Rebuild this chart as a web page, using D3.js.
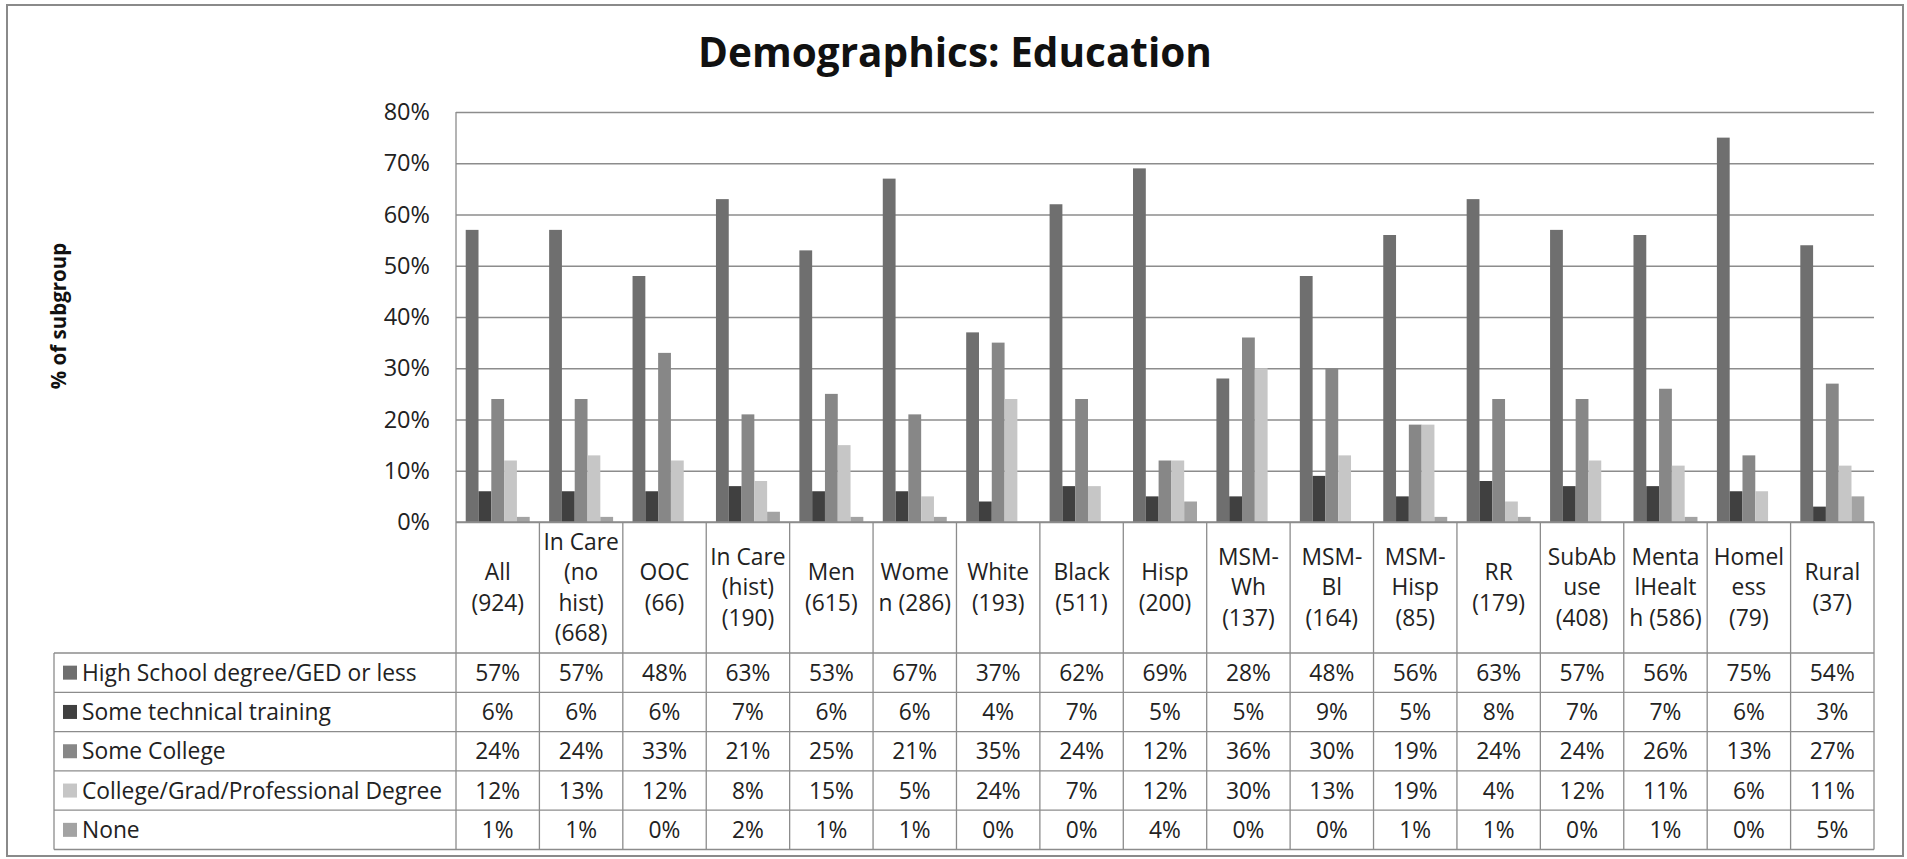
<!DOCTYPE html>
<html><head><meta charset="utf-8">
<script src="https://cdn.jsdelivr.net/npm/d3@7/dist/d3.min.js"></script>
<style>
body{margin:0;background:#fff;}
svg{display:block;}
text{font-family:"Open Sans", Lato, sans-serif;fill:#222;}
</style>
</head><body>
<svg id="chart" width="1907" height="859"></svg>
<script>
// ---------- data ----------
const categories = [
  "All\n(924)", "In Care\n(no\nhist)\n(668)", "OOC\n(66)", "In Care\n(hist)\n(190)",
  "Men\n(615)", "Wome\nn (286)", "White\n(193)", "Black\n(511)", "Hisp\n(200)",
  "MSM-\nWh\n(137)", "MSM-\nBl\n(164)", "MSM-\nHisp\n(85)", "RR\n(179)",
  "SubAb\nuse\n(408)", "Menta\nlHealt\nh (586)", "Homel\ness\n(79)", "Rural\n(37)"
];
const seriesNames = [
  "High School degree/GED or less", "Some technical training", "Some College",
  "College/Grad/Professional Degree", "None"
];
const highSchool   = [57,57,48,63,53,67,37,62,69,28,48,56,63,57,56,75,54];
const technical    = [6,6,6,7,6,6,4,7,5,5,9,5,8,7,7,6,3];
const someCollege  = [24,24,33,21,25,21,35,24,12,36,30,19,24,24,26,13,27];
const collegeGrad  = [12,13,12,8,15,5,24,7,12,30,13,19,4,12,11,6,11];
const noneEdu      = [1,1,0,2,1,1,0,0,4,0,0,1,1,0,1,0,5];
const seriesColors = ["#6f6f6f", "#404040", "#878787", "#c6c6c6", "#a3a3a3"];
const yTickValues  = [0,10,20,30,40,50,60,70,80];
const titleText = "Demographics: Education";
const yAxisTitle = "% of subgroup";

const seriesValues = [highSchool, technical, someCollege, collegeGrad, noneEdu];

// ---------- layout ----------
const L = {plotLeft:456, plotRight:1874, plotTop:112, plotBottom:522,
           headerBottom:653, rowH:39.3, tableLeft:54};
const gridColor = "#8c8c8c";
const tableFont = "22.8px";

const svg = d3.select("#chart");

// outer border
svg.append("rect").attr("x",7).attr("y",5).attr("width",1896).attr("height",851)
  .attr("fill","#fff").attr("stroke","#8a8a8a").attr("stroke-width",2);

// title
svg.append("text").attr("x",955).attr("y",67).attr("text-anchor","middle")
  .style("font-size","40.5px").style("font-weight","bold").style("fill","#111")
  .text(titleText);

// y axis title
svg.append("text").attr("transform","translate(66,316) rotate(-90)")
  .attr("text-anchor","middle").style("font-size","20.5px").style("font-weight","bold")
  .style("fill","#111").text(yAxisTitle);

// scales
const x0 = d3.scaleBand().domain(d3.range(categories.length))
  .range([L.plotLeft, L.plotRight]).paddingInner(0.233).paddingOuter(0.1165);
const x1 = d3.scaleBand().domain(d3.range(seriesNames.length))
  .range([0, x0.bandwidth()]);
const y = d3.scaleLinear().domain([0,80]).range([L.plotBottom, L.plotTop]);

// gridlines + tick labels via axis
const yAxis = d3.axisLeft(y).tickValues(yTickValues).tickFormat(d => d + "%")
  .tickSize(-(L.plotRight - L.plotLeft)).tickPadding(26);
const gy = svg.append("g").attr("transform",`translate(${L.plotLeft},0)`).call(yAxis);
gy.select(".domain").remove();
gy.selectAll(".tick line").attr("stroke",gridColor).attr("stroke-width",1.3);
gy.selectAll(".tick text").style("font-size","23.5px").style("fill","#222")
  .style("font-family","'Open Sans', Lato, sans-serif");

// bars
const groups = svg.append("g").selectAll("g").data(categories).join("g")
  .attr("transform",(d,i)=>`translate(${x0(i)},0)`);
groups.selectAll("rect")
  .data((d,i)=>seriesValues.map((s,k)=>({k, v:s[i]})))
  .join("rect")
  .attr("x",d=>x1(d.k)).attr("width",x1.bandwidth())
  .attr("y",d=>y(d.v)).attr("height",d=>y(0)-y(d.v))
  .attr("fill",d=>seriesColors[d.k]);

// ---------- data table ----------
const tableBottom = L.headerBottom + L.rowH * seriesNames.length;
const step = x0.step();
const colLeft = i => L.plotLeft + i*step;
const tbl = svg.append("g");

// axis baseline
tbl.append("line").attr("x1",L.plotLeft).attr("x2",L.plotRight)
  .attr("y1",L.plotBottom).attr("y2",L.plotBottom).attr("stroke",gridColor).attr("stroke-width",1.3);
// left axis line (plot + table)
tbl.append("line").attr("x1",L.plotLeft).attr("x2",L.plotLeft)
  .attr("y1",L.plotTop).attr("y2",tableBottom).attr("stroke",gridColor).attr("stroke-width",1.3);
// column separators
d3.range(1, categories.length+1).forEach(i=>{
  tbl.append("line").attr("x1",colLeft(i)).attr("x2",colLeft(i))
    .attr("y1",L.plotBottom).attr("y2",tableBottom).attr("stroke",gridColor).attr("stroke-width",1.3);
});
// row lines
d3.range(0, seriesNames.length+1).forEach(r=>{
  const yy = L.headerBottom + r*L.rowH;
  tbl.append("line").attr("x1",L.tableLeft).attr("x2",L.plotRight)
    .attr("y1",yy).attr("y2",yy).attr("stroke",gridColor).attr("stroke-width",1.3);
});
tbl.append("line").attr("x1",L.tableLeft).attr("x2",L.tableLeft)
  .attr("y1",L.headerBottom).attr("y2",tableBottom).attr("stroke",gridColor).attr("stroke-width",1.3);

// category headers
const lineH = 30.6;
const headerMid = (L.plotBottom + L.headerBottom)/2;
categories.forEach((c,i)=>{
  const lines = c.split("\n");
  const cx = colLeft(i) + step/2;
  const t = tbl.append("text").attr("text-anchor","middle").style("font-size",tableFont);
  lines.forEach((ln,j)=>{
    t.append("tspan").attr("x",cx)
      .attr("y", headerMid + (j - (lines.length-1)/2)*lineH)
      .attr("dy","0.35em").text(ln);
  });
});

// legend rows + values
seriesNames.forEach((name,k)=>{
  const cy = L.headerBottom + (k+0.5)*L.rowH;
  tbl.append("rect").attr("x",63).attr("y",cy-7).attr("width",14).attr("height",14)
    .attr("fill",seriesColors[k]);
  tbl.append("text").attr("x",82).attr("y",cy).attr("dy","0.35em")
    .style("font-size",tableFont).text(name);
  seriesValues[k].forEach((v,i)=>{
    tbl.append("text").attr("x",colLeft(i)+step/2).attr("y",cy).attr("dy","0.35em")
      .attr("text-anchor","middle").style("font-size",tableFont).text(v + "%");
  });
});
</script>
</body></html>
